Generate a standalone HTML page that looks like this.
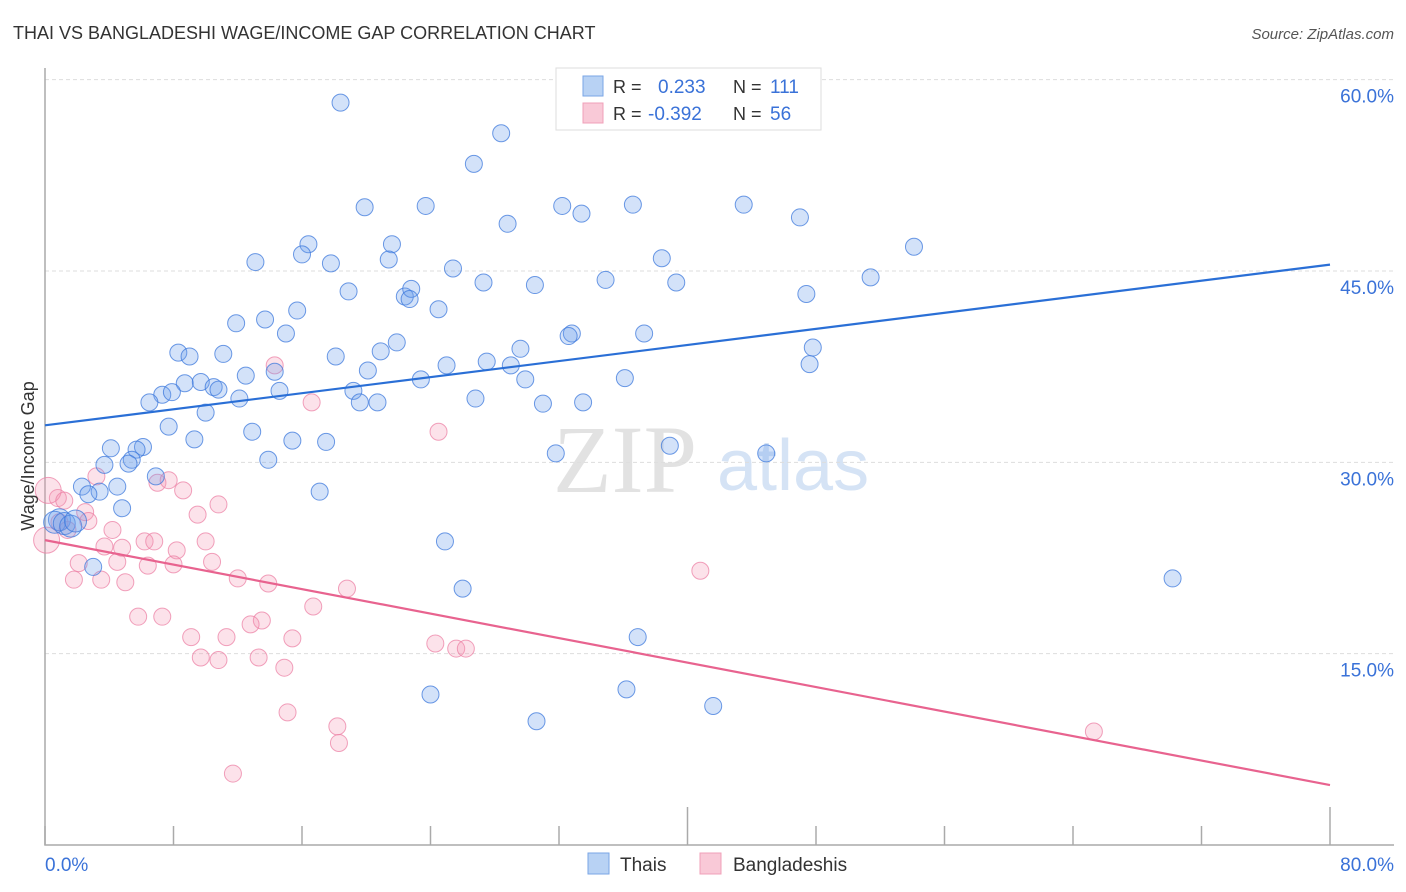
<!DOCTYPE html>
<html><head><meta charset="utf-8">
<style>
body{margin:0;background:#fff;font-family:"Liberation Sans",sans-serif;}
svg{display:block}
</style></head>
<body>
<svg id="chart" width="1406" height="892" viewBox="0 0 1406 892" xmlns="http://www.w3.org/2000/svg">
<text x="13" y="39" font-size="18" fill="#333">THAI VS BANGLADESHI WAGE/INCOME GAP CORRELATION CHART</text>
<text x="1394" y="39" font-size="15" fill="#555" text-anchor="end" font-style="italic">Source: ZipAtlas.com</text>
<g>
<text x="553" y="492" font-size="96" fill="#e2e2e2" font-family="Liberation Serif,serif">ZIP</text>
<text x="717" y="490" font-size="72" fill="#d5e3f5">atlas</text>
</g>
<g id="grid"></g>
<g id="axes"></g>
<g id="pts"></g>
<g id="trends"></g>
<text transform="translate(34,456) rotate(-90)" font-size="18" fill="#333" text-anchor="middle">Wage/Income Gap</text>
<g>
<rect x="556" y="68" width="265" height="62" fill="#fff" stroke="#ddd"/>
<rect x="583" y="76" width="20" height="20" fill="#b8d2f4" stroke="#7aa6e6"/>
<rect x="583" y="103" width="20" height="20" fill="#f9c9d7" stroke="#f0a0b8"/>
<text x="613" y="93" font-size="18" fill="#333">R =</text>
<text x="658" y="93" font-size="19" fill="#3a72d8">0.233</text>
<text x="733" y="93" font-size="18" fill="#333">N =</text>
<text x="770" y="93" font-size="19" fill="#3a72d8">111</text>
<text x="613" y="120" font-size="18" fill="#333">R =</text>
<text x="648" y="120" font-size="19" fill="#3a72d8">-0.392</text>
<text x="733" y="120" font-size="18" fill="#333">N =</text>
<text x="770" y="120" font-size="19" fill="#3a72d8">56</text>
</g>
<g>
<rect x="588" y="853" width="21" height="21" fill="#b8d2f4" stroke="#7aa6e6"/>
<text x="620" y="871" font-size="19" fill="#333">Thais</text>
<rect x="700" y="853" width="21" height="21" fill="#f9c9d7" stroke="#f0a0b8"/>
<text x="733" y="871" font-size="19" fill="#333">Bangladeshis</text>
</g>
</svg>
<script>
const yTicks=[15,30,45,60];
const yTickLabels=["15.0%","30.0%","45.0%","60.0%"];
const xTickVals=[0,8,16,24,32,40,48,56,64,72,80];
const xEndLabels=["0.0%","80.0%"];
const thaiX=[18.4,28.4,26.7,19.9,23.7,32.2,36.6,43.5,33.4,28.8,47.0,54.1,16.4,21.6,13.1,16.0,17.8,21.4,25.4,38.4,51.4,27.3,30.5,34.9,39.3,18.9,22.4,22.8,22.7,47.4,15.7,24.5,11.9,13.7,15.0,32.8,32.6,37.3,47.8,47.6,8.3,9.0,11.1,18.1,20.9,21.9,29.6,27.5,29.0,25.0,20.1,14.3,12.5,36.1,29.9,23.4,8.7,9.7,10.5,10.8,7.3,7.9,6.5,12.1,14.6,19.2,19.6,20.7,26.8,31.0,33.5,10.0,7.7,12.9,9.3,15.4,17.5,4.1,6.1,5.7,5.4,5.2,13.9,31.8,38.9,44.9,3.7,6.9,4.5,2.3,3.4,2.7,17.1,4.8,0.9,0.6,1.2,1.6,1.9,24.9,3.0,26.0,70.2,36.9,24.0,36.2,41.6,30.6];
const thaiY=[58.2,55.8,53.4,50.0,50.1,50.1,50.2,50.2,49.5,48.7,49.2,46.9,47.1,47.1,45.7,46.3,45.6,45.9,45.2,46.0,44.5,44.1,43.9,44.3,44.1,43.4,43.0,43.6,42.8,43.2,41.9,42.0,40.9,41.2,40.1,40.1,39.9,40.1,39.0,37.7,38.6,38.3,38.5,38.3,38.7,39.4,38.9,37.9,37.6,37.6,37.2,37.1,36.8,36.6,36.5,36.5,36.2,36.3,35.9,35.7,35.3,35.5,34.7,35.0,35.6,35.6,34.7,34.7,35.0,34.6,34.7,33.9,32.8,32.4,31.8,31.7,31.6,31.1,31.2,31.0,30.2,29.9,30.2,30.7,31.3,30.7,29.8,28.9,28.1,28.1,27.7,27.5,27.7,26.4,25.5,25.3,25.2,25.0,25.4,23.8,21.8,20.1,20.9,16.3,11.8,12.2,10.9,9.7];
const bangX=[14.3,16.6,24.5,3.2,7.0,7.7,8.6,0.8,0.2,1.2,2.5,2.7,10.8,9.5,4.2,0.9,1.4,3.7,4.8,6.2,6.8,8.2,10.0,0.1,2.1,4.5,6.4,8.0,10.4,12.0,13.9,1.8,3.5,5.0,18.8,16.7,5.8,7.3,13.5,12.8,9.1,11.3,15.4,24.3,25.6,26.2,9.7,10.8,13.3,14.9,40.8,15.1,18.2,18.3,11.7,65.3];
const bangY=[37.6,34.7,32.4,28.9,28.4,28.6,27.8,27.2,27.8,27.0,26.1,25.4,26.7,25.9,24.7,25.3,24.7,23.4,23.3,23.8,23.8,23.1,23.8,23.9,22.1,22.2,21.9,22.0,22.2,20.9,20.5,20.8,20.8,20.6,20.1,18.7,17.9,17.9,17.6,17.3,16.3,16.3,16.2,15.8,15.4,15.4,14.7,14.5,14.7,13.9,21.5,10.4,9.3,8.0,5.6,8.9];
const thaiTrend=[32.9,45.5];
const bangTrend=[23.9,4.7];
const trendX=[0,80];

const NS="http://www.w3.org/2000/svg";
const xs=v=>45+v*(1285/80);
const ys=v=>845-v*(574/45);
function mk(tag,attrs,parent){const e=document.createElementNS(NS,tag);for(const k in attrs)e.setAttribute(k,attrs[k]);parent.appendChild(e);return e;}
const grid=document.getElementById('grid'),axes=document.getElementById('axes'),pts=document.getElementById('pts'),tr=document.getElementById('trends');
yTicks.forEach((t,i)=>{
  const l=mk('line',{x1:45,x2:1394,y1:ys(t),y2:ys(t),stroke:'#ddd','stroke-dasharray':'4,3'},grid);
  
  
  const tx=mk('text',{x:1394,y:ys(t)+23,'font-size':19,fill:'#3a72d8','text-anchor':'end'},axes);
  tx.textContent=yTickLabels[i];
  
  
});
const ax=mk('path',{d:'M45,68V845H1394',fill:'none',stroke:'#aaa','stroke-width':1.5},axes);


xTickVals.forEach(t=>{
  const long=(t===40||t===80);
  const k=mk('line',{x1:xs(t),x2:xs(t),y1:long?807:826,y2:845,stroke:'#aaa','stroke-width':1.5},axes);
  
  
});
[0,80].forEach((t,i)=>{
  const tx=mk('text',{x:i?1394:45,y:871,'font-size':19,fill:'#3a72d8','text-anchor':i?'end':'start'},axes);
  tx.textContent=xEndLabels[i];
  
  
});
bangX.forEach((x,i)=>{
  const c=mk('circle',{cx:xs(x),cy:ys(bangY[i]),r:(x<0.5?13:8.5),fill:'rgba(244,150,180,0.28)',stroke:'rgba(236,130,165,0.75)','stroke-width':1},pts);
  
  
});
thaiX.forEach((x,i)=>{
  const c=mk('circle',{cx:xs(x),cy:ys(thaiY[i]),r:(x<2?11:8.5),fill:'rgba(110,160,235,0.3)',stroke:'rgba(60,120,220,0.75)','stroke-width':1},pts);
  
  
});
const l1=mk('line',{x1:xs(trendX[0]),y1:ys(thaiTrend[0]),x2:xs(trendX[1]),y2:ys(thaiTrend[1]),stroke:'#2a6fd6','stroke-width':2.2},tr);


const l2=mk('line',{x1:xs(trendX[0]),y1:ys(bangTrend[0]),x2:xs(trendX[1]),y2:ys(bangTrend[1]),stroke:'#e8638f','stroke-width':2.2},tr);


</script>
</body></html>
